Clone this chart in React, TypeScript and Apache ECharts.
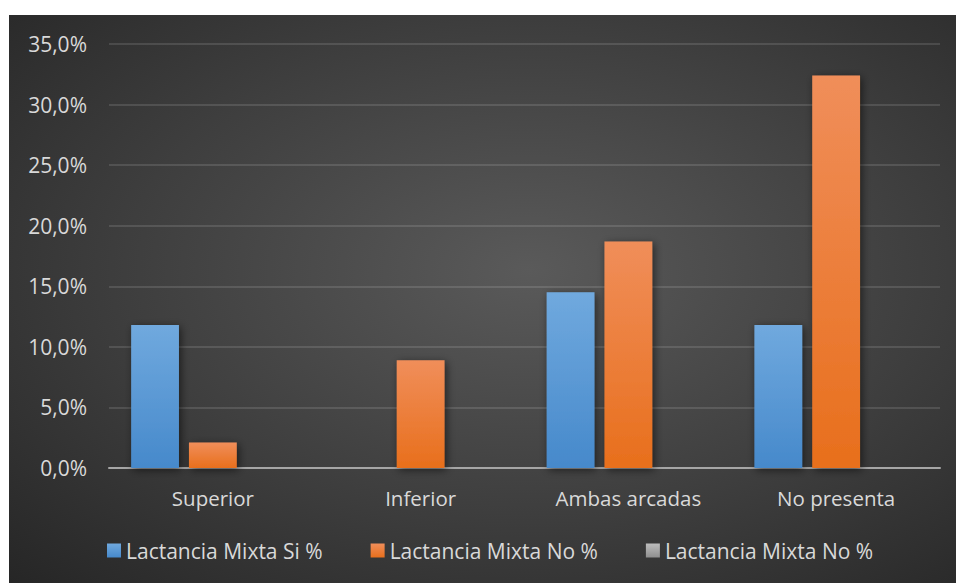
import React, { useEffect, useRef } from "react";
import * as echarts from "echarts";

const categories = ["Superior", "Inferior", "Ambas arcadas", "No presenta"];
const seriesNames = ["Lactancia Mixta Si %", "Lactancia Mixta No %", "Lactancia Mixta No % (2)"];
const siValues = [11.8, 0, 14.5, 11.8];
const noValues = [2.1, 8.9, 18.7, 32.4];
const no2Values = [0, 0, 0, 0];
const yTicks = { min: 0, max: 35, interval: 5 };

const fmt = (v: number) => v.toFixed(1).replace(".", ",") + "%";

const grad = (top: string, bottom: string) =>
  new echarts.graphic.LinearGradient(0, 0, 0, 1, [
    { offset: 0, color: top },
    { offset: 1, color: bottom },
  ]);

export default function App() {
  const ref = useRef<HTMLDivElement>(null);
  useEffect(() => {
    if (!ref.current) return;
    const chart = echarts.init(ref.current, undefined, { renderer: "svg" });
    const font = "'Open Sans', 'Noto Sans', sans-serif";
    const shadow = {
      shadowBlur: 8,
      shadowColor: "rgba(0,0,0,0.55)",
      shadowOffsetX: 2,
      shadowOffsetY: 2,
    };
    chart.setOption({
      animation: false,
      textStyle: { fontFamily: font },
      grid: { left: 100, right: 16, top: 29, bottom: 115, containLabel: false },
      legend: {
        top: 525,
        left: 98,
        padding: 0,
        itemWidth: 14,
        itemHeight: 14,
        itemGap: 48,
        icon: "rect",
        textStyle: { color: "#d9d9d9", fontSize: 21, fontFamily: font },
        formatter: (n: string) => n.replace(" (2)", ""),
        data: seriesNames,
      },
      xAxis: {
        type: "category",
        data: categories,
        axisLine: { lineStyle: { color: "#a6a6a6", width: 2 } },
        axisTick: { show: false },
        axisLabel: { color: "#d9d9d9", fontSize: 20.5, margin: 19, fontFamily: font },
      },
      yAxis: {
        type: "value",
        min: yTicks.min,
        max: yTicks.max,
        interval: yTicks.interval,
        axisLine: { show: false },
        axisTick: { show: false },
        axisLabel: {
          color: "#d9d9d9",
          fontSize: 21,
          margin: 22,
          fontFamily: font,
          formatter: (v: number) => fmt(v),
        },
        splitLine: { lineStyle: { color: "rgba(255,255,255,0.12)", width: 2 } },
      },
      series: [
        {
          name: seriesNames[0],
          type: "bar",
          data: siValues,
          barWidth: "23%",
          barGap: "21%",
          itemStyle: { color: grad("#70a9de", "#4689cb"), ...shadow },
        },
        {
          name: seriesNames[1],
          type: "bar",
          data: noValues,
          barWidth: "23%",
          barGap: "21%",
          itemStyle: { color: grad("#f08e5a", "#e86f1c"), ...shadow },
        },
        {
          name: seriesNames[2],
          type: "bar",
          data: no2Values,
          barWidth: "23%",
          barGap: "21%",
          itemStyle: { color: grad("#bdbdbd", "#8f8f8f") },
        },
      ],
    });
    return () => chart.dispose();
  }, []);
  return (
    <div
      ref={ref}
      style={{
        position: "absolute",
        left: 9,
        top: 15,
        width: 947,
        height: 568,
        background:
          "radial-gradient(ellipse farthest-corner at 55% 45%, #5a5a5a 0%, #3e3e3e 55%, #262626 100%)",
      }}
    />
  );
}
